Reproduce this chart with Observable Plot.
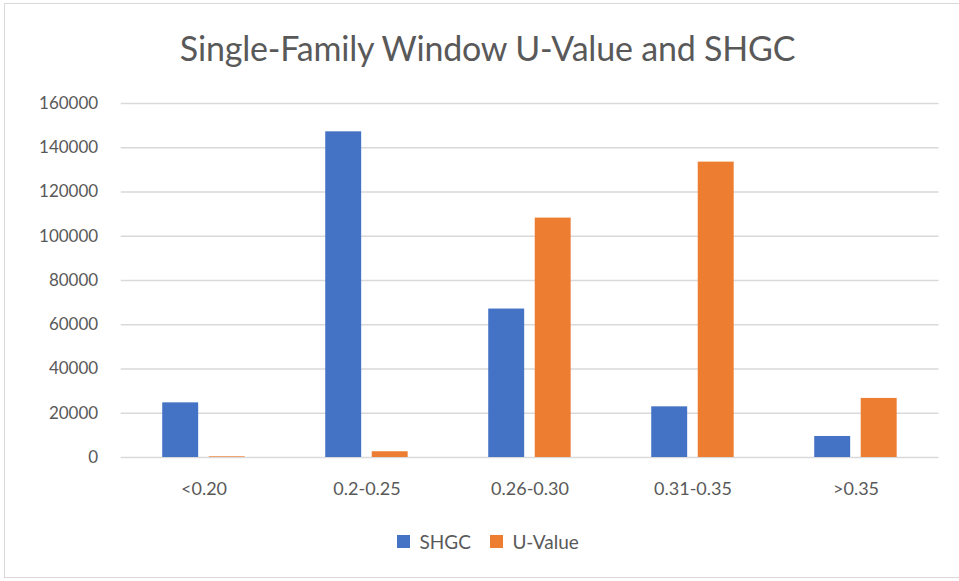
<!DOCTYPE html>
<html>
<head>
<meta charset="utf-8">
<script src="https://cdn.jsdelivr.net/npm/d3@7"></script>
<script src="https://cdn.jsdelivr.net/npm/@observablehq/plot@0.6"></script>
<style>
  html, body { margin: 0; padding: 0; background: #fff; }
  body { width: 959px; height: 581px; position: relative; overflow: hidden; font-family: Lato, "Open Sans", sans-serif; }
  #frame { position: absolute; left: 4px; top: 3px; width: 970px; height: 575px; border: 1.5px solid #d9d9d9; box-sizing: border-box; }
  #title { position: absolute; left: 0; width: 975px; top: 27px; text-align: center; font-size: 34px; color: #595959; font-weight: 400; white-space: nowrap; letter-spacing: -0.2px; }
  #chart { position: absolute; left: 0; top: 90px; }
  #legend { position: absolute; left: 397px; top: 525px; }
</style>
</head>
<body>
<div id="frame"></div>
<div id="title">Single-Family Window U-Value and SHGC</div>
<div id="chart"></div>
<div id="legend"></div>
<script>
const categories = ["<0.20", "0.2-0.25", "0.26-0.30", "0.31-0.35", ">0.35"];
const series = ["SHGC", "U-Value"];
const colors = ["#4472C4", "#ED7D31"];
const shgc = [24700, 147200, 67100, 22900, 9500];
const uValue = [300, 2600, 108200, 133500, 26700];
const yTicks = [0, 20000, 40000, 60000, 80000, 100000, 120000, 140000, 160000];

const data = [];
categories.forEach((c, i) => {
  data.push({category: c, series: "SHGC", value: shgc[i]});
  data.push({category: c, series: "U-Value", value: uValue[i]});
});

const barWidth = 36.5;
const band = (938.5 - 120.7) / categories.length;
const inset = (band - barWidth) / 2;

const plot = Plot.plot({
  width: 959,
  height: 430,
  marginTop: 13,
  marginBottom: 63,
  marginLeft: 120.7,
  marginRight: 20.5,
  style: {fontFamily: "Lato, 'Open Sans', sans-serif", fontSize: "17px", color: "#595959", background: "transparent"},
  x: {domain: categories, padding: 0, label: null, tickSize: 0, tickPadding: 25},
  y: {domain: [0, 160000], ticks: yTicks, label: null, tickSize: 0, tickPadding: 23, tickFormat: d => String(d)},
  color: {domain: series, range: colors},
  marks: [
    Plot.ruleY(yTicks, {stroke: "#d9d9d9", strokeWidth: 1.5}),
    Plot.barY(data.filter(d => d.series === "SHGC"), {x: "category", y: "value", fill: "series", dx: -23.3, insetLeft: inset, insetRight: inset}),
    Plot.barY(data.filter(d => d.series === "U-Value"), {x: "category", y: "value", fill: "series", dx: 23.2, insetLeft: inset, insetRight: inset}),
    Plot.axisX({tickSize: 0, tickPadding: 25, fontSize: 18})
  ]
});
document.getElementById("chart").appendChild(plot);

const legend = Plot.legend({
  color: {domain: series, range: colors},
  swatchSize: 13,
  style: {fontFamily: "Lato, 'Open Sans', sans-serif", fontSize: "19px", color: "#595959", marginLeft: "0px"}
});
document.getElementById("legend").appendChild(legend);
</script>
</body>
</html>
